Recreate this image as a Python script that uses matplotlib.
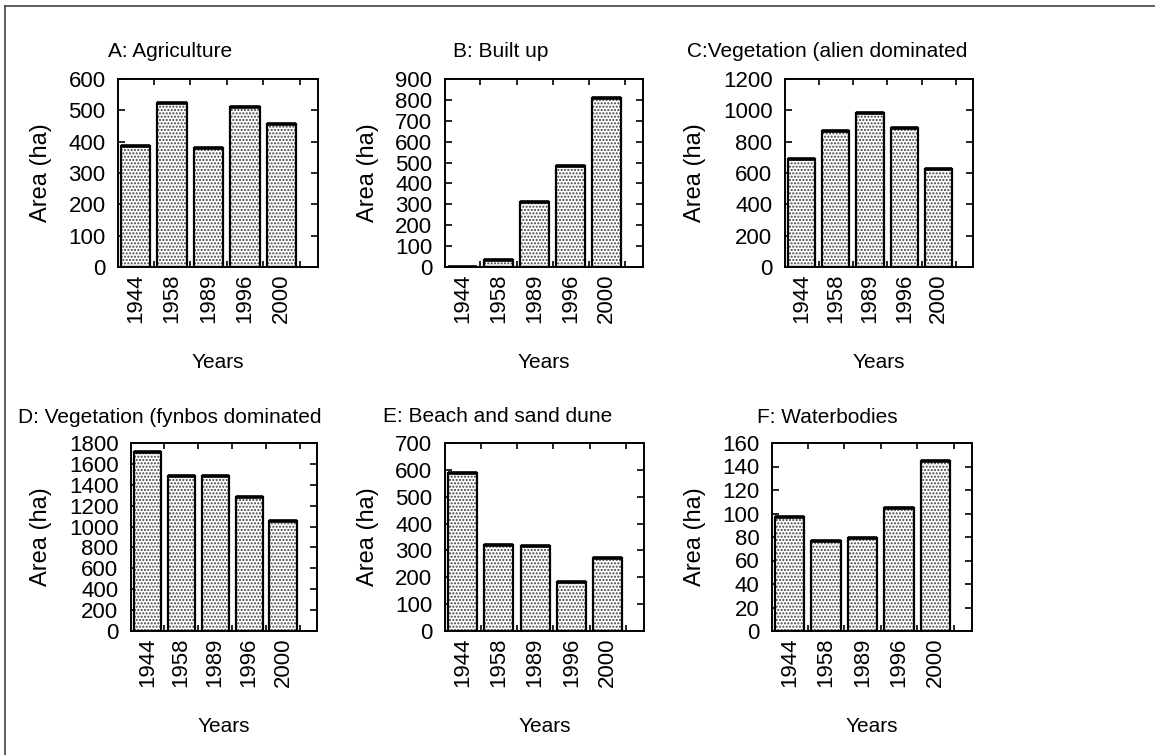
import matplotlib
matplotlib.use("Agg")
import matplotlib.pyplot as plt
from matplotlib.lines import Line2D
import numpy as np

years = ["1944", "1958", "1989", "1996", "2000"]

agriculture = [385, 525, 380, 512, 455]
built_up = [0, 35, 310, 485, 810]
veg_alien = [690, 870, 985, 885, 625]
veg_fynbos = [1710, 1480, 1480, 1280, 1055]
beach_dune = [590, 320, 317, 182, 272]
waterbodies = [97, 77, 79, 105, 145]

titles = ["A: Agriculture", "B: Built up", "C:Vegetation (alien dominated",
          "D: Vegetation (fynbos dominated", "E: Beach and sand dune", "F: Waterbodies"]
series = [agriculture, built_up, veg_alien, veg_fynbos, beach_dune, waterbodies]
ymax = [600, 900, 1200, 1800, 700, 160]
ystep = [100, 100, 200, 200, 100, 20]

plt.rcParams['font.family'] = ['Liberation Sans', 'DejaVu Sans']
plt.rcParams['hatch.linewidth'] = 1.0

W, H = 1155, 755
fig = plt.figure(figsize=(W / 100, H / 100), dpi=100)

# axes boxes in pixels: left, right, top, bottom
boxes = [(118, 318, 79, 267), (445, 643, 79, 267), (785, 973, 79, 267),
         (131, 317, 443, 631), (445, 644, 443, 631), (772, 972, 443, 631)]
title_pos = [(108, 57), (453, 57), (687, 57), (18, 423), (383, 422), (757, 423)]

for i in range(6):
    l, r, t, b = boxes[i]
    ax = fig.add_axes([l / W, 1 - b / H, (r - l) / W, (b - t) / H])
    x = np.arange(len(years))
    vals = series[i]
    ax.bar(x, vals, width=0.8, color='white', edgecolor='#404040', hatch='.....',
           linewidth=0, zorder=2)
    ax.bar(x, vals, width=0.8, fill=False, edgecolor='black', linewidth=1.6, zorder=3)
    ax.hlines(vals, x - 0.4, x + 0.4, colors='black', linewidth=2.6, zorder=4)
    ax.set_xlim(-0.48, 5.0)
    ax.set_ylim(0, ymax[i])
    ax.set_yticks(np.arange(0, ymax[i] + 1, ystep[i]))
    ax.set_xticks(x)
    ax.set_xticklabels(years, rotation=90)
    ax.set_xticks(x + 0.5, minor=True)
    ax.tick_params(axis='x', which='major', length=0, pad=5, labelsize=16)
    ax.tick_params(axis='x', which='minor', direction='in', length=4, width=1.2,
                   top=True, bottom=True)
    ax.tick_params(axis='y', which='major', direction='in', length=5, width=1.2,
                   left=True, right=True, pad=9, labelsize=16)
    for s in ax.spines.values():
        s.set_linewidth(1.4)
    ax.set_xlabel("Years", fontsize=15)
    ax.xaxis.set_label_coords(0.5, -0.46)
    ax.set_ylabel("Area (ha)", fontsize=17, labelpad=12)
    tx, ty = title_pos[i]
    fig.text(tx / W, 1 - ty / H, titles[i], fontsize=15, ha='left', va='baseline')

# page border (left and top)
fig.add_artist(Line2D([5 / W, 5 / W], [0, 1 - 6 / H], color='#444444', linewidth=1.2))
fig.add_artist(Line2D([5 / W, 1], [1 - 6 / H, 1 - 6 / H], color='#444444', linewidth=1.2))

fig.savefig("out.png", dpi=100)
